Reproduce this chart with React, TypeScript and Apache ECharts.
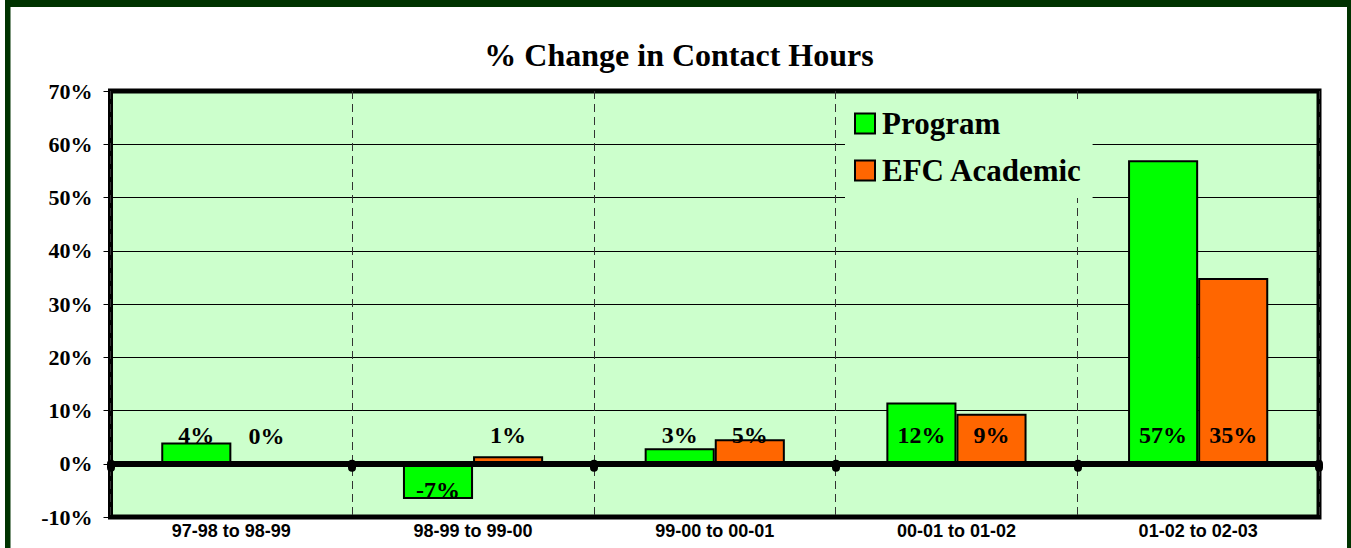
import React, { useEffect, useRef } from "react";
import * as echarts from "echarts";

const categories = ["97-98 to 98-99", "98-99 to 99-00", "99-00 to 00-01", "00-01 to 01-02", "01-02 to 02-03"];
const programValues = [4.0, -6.6, 2.9, 11.5, 57.0];
const efcValues = [0.0, 1.4, 4.6, 9.4, 34.9];
const seriesNames = ["Program", "EFC Academic"];
const titleText = "% Change in Contact Hours";

const SERIF = "'Liberation Serif', 'Times New Roman', serif";
const SANS = "'Liberation Sans', Arial, sans-serif";

function buildData(values: number[]) {
  return values.map((v) =>
    v < 0
      ? { value: v, label: { position: "insideBottom", distance: -3 } }
      : { value: v }
  );
}

export default function App() {
  const ref = useRef<HTMLDivElement>(null);
  useEffect(() => {
    if (!ref.current) return;
    const chart = echarts.init(ref.current, null, { renderer: "svg" });
    const labelCfg = {
      show: true,
      position: "insideBottom",
      distance: 17,
      formatter: (p: any) => Math.round(p.value) + "%",
      color: "#000",
      fontFamily: SERIF,
      fontWeight: "bold",
      fontSize: 24,
    };
    chart.setOption({
      animation: false,
      backgroundColor: "#fff",
      title: {
        text: titleText,
        left: 674,
        textAlign: "center",
        top: 34,
        textStyle: { fontFamily: SERIF, fontWeight: "bold", fontSize: 32, color: "#000" },
      },
      legend: {
        data: seriesNames,
        orient: "vertical",
        left: 845,
        top: 99,
        padding: [9, 10, 12, 9],
        backgroundColor: "#CCFFCC",
        itemWidth: 20,
        itemHeight: 20,
        itemGap: 16,
        icon: "rect",
        itemStyle: { borderColor: "#000", borderWidth: 2 },
        textStyle: { fontFamily: SERIF, fontWeight: "bold", fontSize: 31, color: "#000", padding: [0, 0, 0, 2] },
      },
      grid: {
        left: 110.5,
        right: 32,
        top: 91,
        bottom: 31,
        containLabel: false,
        outerBoundsMode: "none",
        show: true,
        backgroundColor: "#CCFFCC",
        borderColor: "#000",
        borderWidth: 5,
        z: 0,
      },
      xAxis: {
        type: "category",
        data: categories,
        axisLine: { onZero: true, lineStyle: { color: "#000", width: 6 } },
        axisTick: { show: true, interval: 0, length: 4, lineStyle: { color: "#000", width: 8, cap: "round" } },
        axisLabel: { interval: 0, margin: 5, fontFamily: SANS, fontWeight: "bold", fontSize: 18, color: "#000" },
        splitLine: { show: true, interval: 0, lineStyle: { color: "#333", width: 1, type: [8, 5] } },
        z: 3,
      },
      yAxis: {
        type: "value",
        min: -10,
        max: 70,
        interval: 10,
        axisLine: { show: false },
        axisTick: { show: true, length: 7, lineStyle: { color: "#000", width: 1 } },
        axisLabel: { formatter: "{value}%", margin: 18, fontFamily: SERIF, fontWeight: "bold", fontSize: 22, color: "#000" },
        splitLine: { show: true, lineStyle: { color: "#000", width: 1 } },
      },
      series: [
        {
          name: seriesNames[0],
          type: "bar",
          data: buildData(programValues),
          barGap: "0%",
          barCategoryGap: "42%",
          itemStyle: { color: "#00FF00", borderColor: "#000", borderWidth: 2 },
          label: labelCfg,
          z: 2,
        },
        {
          name: seriesNames[1],
          type: "bar",
          data: buildData(efcValues),
          itemStyle: { color: "#FF6600", borderColor: "#000", borderWidth: 2 },
          label: labelCfg,
          z: 2,
        },
      ],
      graphic: [
        { type: "rect", shape: { x: 5, y: 0, width: 1346, height: 7 }, style: { fill: "#003300" }, z: 100 },
        { type: "rect", shape: { x: 5, y: 0, width: 5.5, height: 548 }, style: { fill: "#003300" }, z: 100 },
        { type: "rect", shape: { x: 1347, y: 0, width: 4, height: 548 }, style: { fill: "#003300" }, z: 100 },
      ],
    });
    return () => chart.dispose();
  }, []);
  return <div ref={ref} style={{ position: "fixed", left: 0, top: 0, width: 1351, height: 548 }} />;
}
